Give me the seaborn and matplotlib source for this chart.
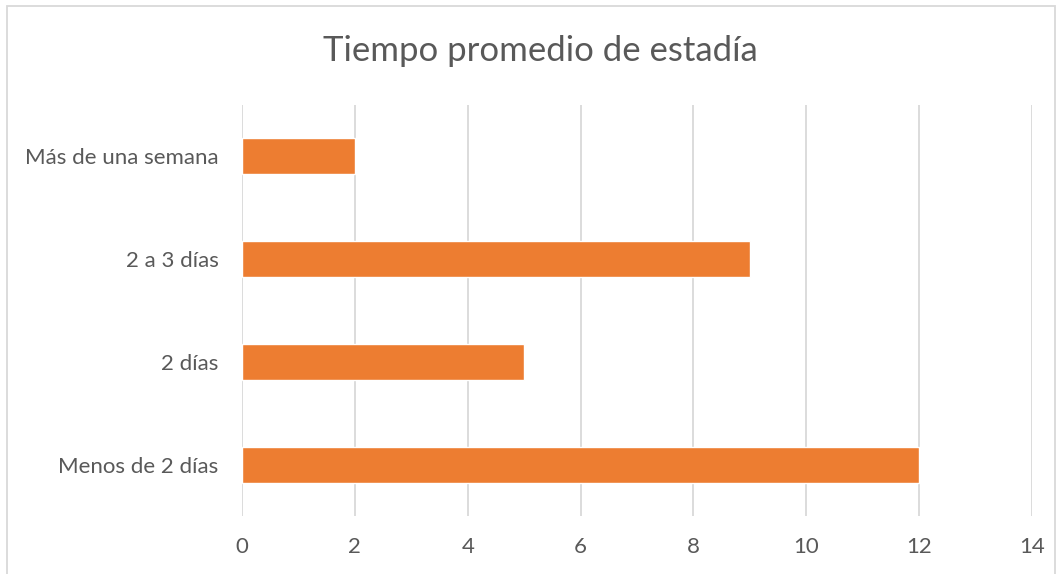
import pandas as pd
import matplotlib.pyplot as plt
import seaborn as sns
from matplotlib.patches import Rectangle

# Datos
categorias = ['Más de una semana', '2 a 3 días', '2 días', 'Menos de 2 días']
valores = [2, 9, 5, 12]
ticks_x = [0, 2, 4, 6, 8, 10, 12, 14]

df = pd.DataFrame({'categoria': categorias, 'valor': valores})

sns.set_style('white')
plt.rcParams['font.family'] = ['Lato', 'DejaVu Sans']

fig = plt.figure(figsize=(10.61, 5.74), dpi=100)
ax = fig.add_axes([242 / 1061, 1 - 516 / 574, (1032 - 242) / 1061, (516 - 105) / 574])

sns.barplot(data=df, x='valor', y='categoria', color='#ED7D31', width=0.35,
            saturation=1, ax=ax, zorder=3)

ax.set_xlim(0, 14)
ax.set_xticks(ticks_x)
ax.grid(axis='x', color='#D9D9D9', linewidth=1.3, zorder=0)
ax.set_axisbelow(True)
for s in ax.spines.values():
    s.set_visible(False)
ax.set_xlabel('')
ax.set_ylabel('')
ax.tick_params(axis='both', length=0, labelsize=16, labelcolor='#595959')
ax.tick_params(axis='y', pad=17)
ax.tick_params(axis='x', pad=15)

fig.text(540 / 1061, 1 - 51 / 574, 'Tiempo promedio de estadía', ha='center', va='center',
         fontsize=25, color='#595959')

# Borde del área del gráfico
fig.patches.append(Rectangle((7 / 1061, -0.05), (1055 - 7) / 1061, 1.05 - 6 / 574,
                             transform=fig.transFigure, fill=False, edgecolor='#D9D9D9',
                             linewidth=1.3))

fig.savefig('out.png', dpi=100)
